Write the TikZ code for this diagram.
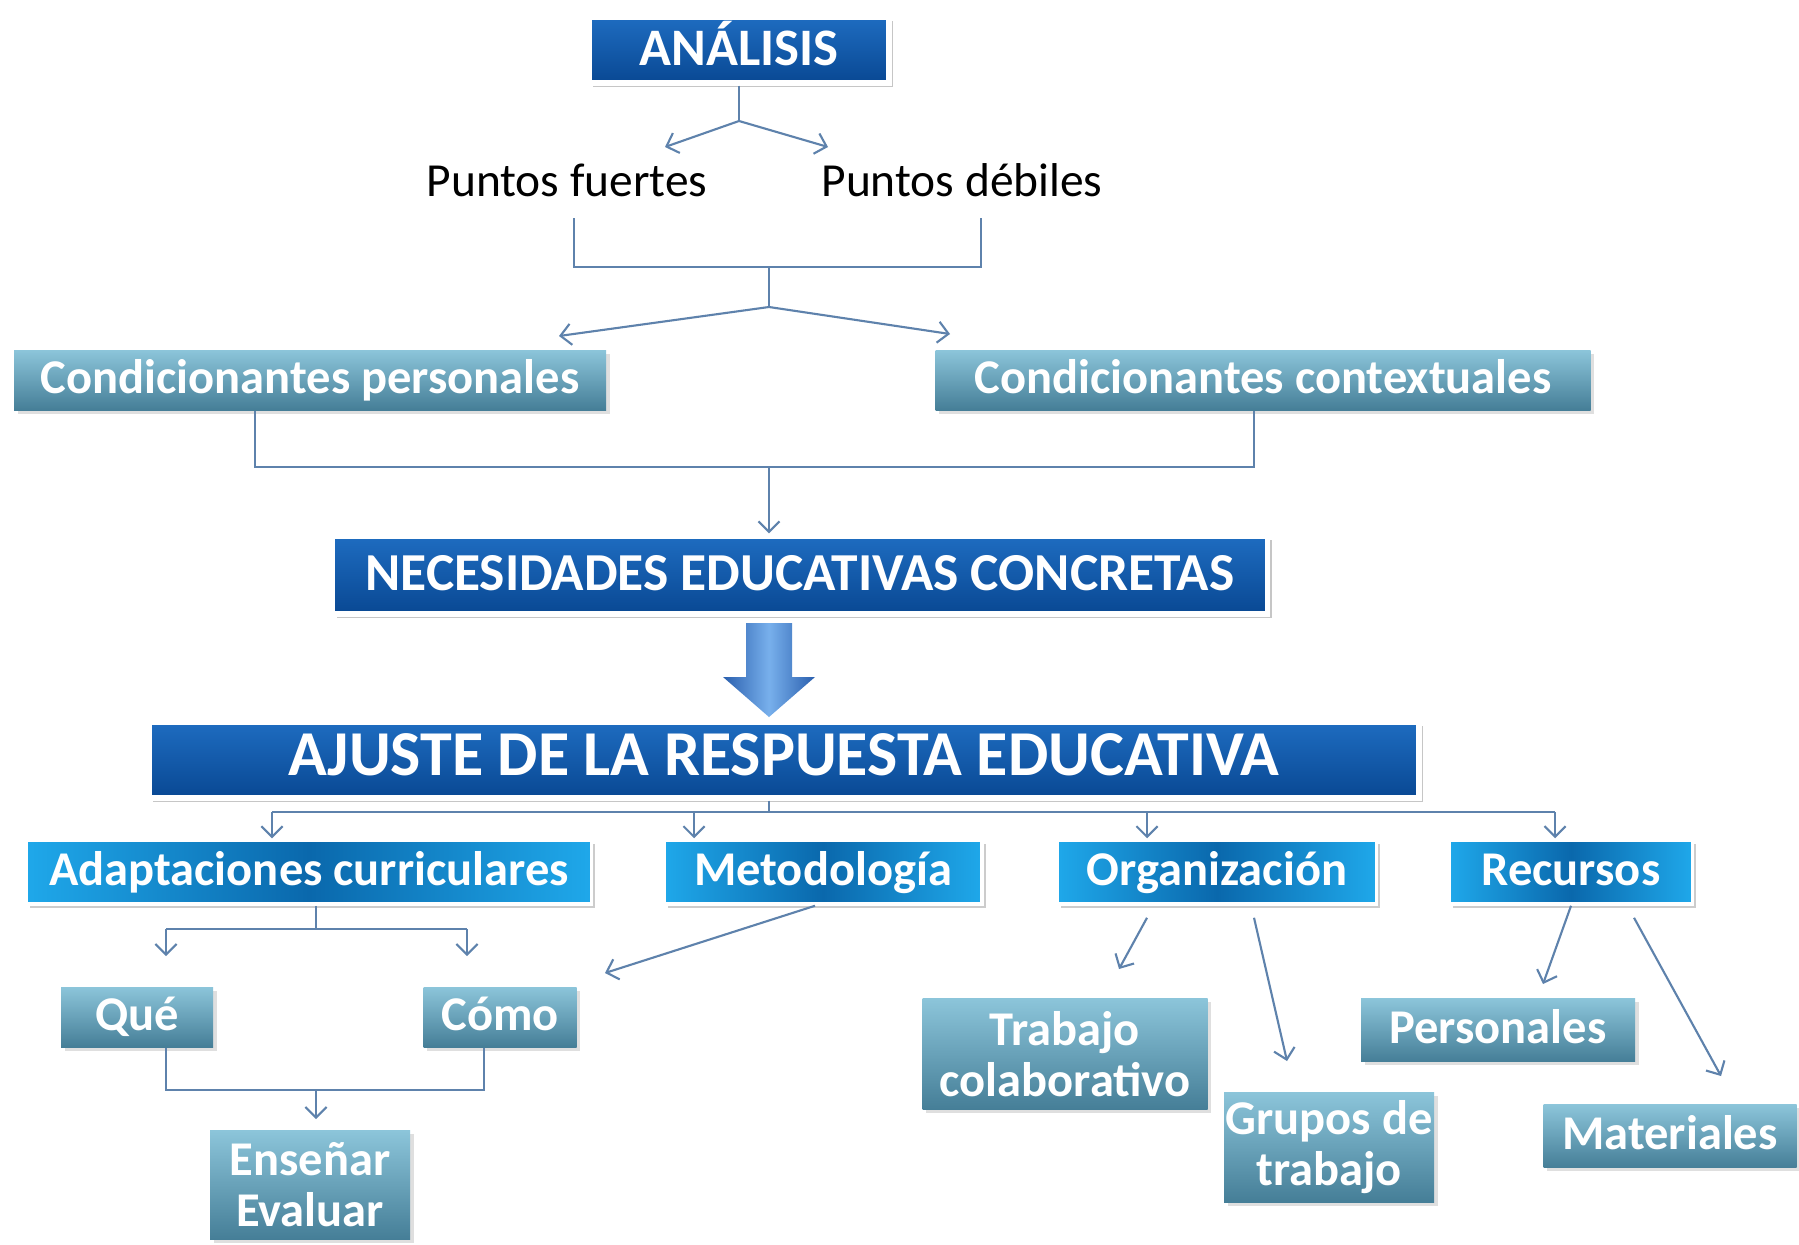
\documentclass[tikz,border=0pt]{standalone}
\usepackage{fontspec}
\setmainfont{Carlito}
\usetikzlibrary{arrows.meta,shadows}

\definecolor{navytop}{HTML}{1E6CC0}
\definecolor{navybot}{HTML}{094893}
\definecolor{tealtop}{HTML}{8CC5DA}
\definecolor{tealbot}{HTML}{457E97}
\definecolor{skyedge}{HTML}{1FA8EA}
\definecolor{skymid}{HTML}{0A68AC}
\definecolor{linec}{HTML}{5E82AC}
\definecolor{arredge}{HTML}{2A5FAE}
\definecolor{arrmid}{HTML}{78B0EC}

\begin{document}
\begin{tikzpicture}[
        big/.style = {draw=white, line width=1.5pt, top color=navytop, bottom color=navybot,
            text=white, inner sep=0pt, text height=1.9ex, text depth=0.1ex,
            general shadow={fill=gray!45, shadow xshift=1.2pt, shadow yshift=-1.2pt}},
        area/.style = {draw=white, line width=1pt, left color=skyedge, right color=skyedge,
            middle color=skymid, text=white, inner sep=0pt, minimum height=0.64cm,
            text height=2.1ex, text depth=0.5ex,
            font=\fontsize{13.8}{14.5}\selectfont\bfseries,
            general shadow={fill=gray!40, shadow xshift=1pt, shadow yshift=-1pt}},
        sub/.style = {top color=tealtop, bottom color=tealbot, text=white, inner sep=0pt,
            align=center, font=\fontsize{13.8}{14.5}\selectfont\bfseries,
            general shadow={fill=gray!25, shadow xshift=1pt, shadow yshift=-1pt}},
        subone/.style = {sub, text height=2.1ex, text depth=0.5ex},
        txt/.style = {font=\fontsize{13.5}{15}\selectfont, inner sep=0pt},
        line/.style = {draw=linec, line width=0.6pt},
        arr/.style = {line, -{Straight Barb[length=3pt,width=6pt]}},
        ]
        \useasboundingbox[fill=white] (0,0) rectangle (17.99,-12.44);

        \node[big, minimum width=3.0cm, minimum height=0.66cm, font=\fontsize{15}{17}\selectfont\bfseries](ana) at (7.39,-0.50) {ANÁLISIS};
        \node[txt](pf) at (5.67,-1.80) {Puntos fuertes};
        \node[txt](pd) at (9.62,-1.80) {Puntos débiles};

        \coordinate (j1) at (7.39,-1.21);
        \coordinate (pf-in) at (6.65,-1.47);
        \coordinate (pd-in) at (8.28,-1.47);
        \draw[line] (ana) -- (j1);
        \draw[arr] (j1) -- (pf-in);
        \draw[arr] (j1) -- (pd-in);

        \coordinate (b1) at (5.74,-2.18);
        \coordinate (b2) at (9.81,-2.18);
        \coordinate (j2) at (7.69,-2.67);
        \coordinate (j3) at (7.69,-3.07);
        \coordinate (cp-in) at (5.59,-3.36);
        \coordinate (cc-in) at (9.50,-3.34);
        \draw[line] (b1) |- (j2) -| (b2);
        \draw[line] (j2) -- (j3);
        \draw[arr] (j3) -- (cp-in);
        \draw[arr] (j3) -- (cc-in);

        \node[subone, minimum width=5.92cm, minimum height=0.60cm](cp) at (3.10,-3.80) {Condicionantes personales};
        \node[subone, minimum width=6.55cm, minimum height=0.60cm](cc) at (12.63,-3.80) {Condicionantes contextuales};

        \node[big, minimum width=9.35cm, minimum height=0.78cm, font=\fontsize{15.2}{18}\selectfont\bfseries](nec) at (8.00,-5.75) {NECESIDADES EDUCATIVAS CONCRETAS};

        \coordinate (j4) at (7.69,-4.67);
        \draw[line] ([xshift=-5.5mm]cp.south) |- (j4) -| ([xshift=-0.9mm]cc.south);
        \draw[arr] (j4) -- (j4 |- nec.north);

        \shade[left color=arredge, right color=arredge, middle color=arrmid]
            (7.46,-6.23) -- (7.92,-6.23) -- (7.92,-6.77) -- (8.15,-6.77) -- (7.69,-7.17)
            -- (7.23,-6.77) -- (7.46,-6.77) -- cycle;

        \node[big, minimum width=12.7cm, minimum height=0.76cm, font=\fontsize{18.2}{21}\selectfont\bfseries](aju) at (7.84,-7.60) {AJUSTE DE LA RESPUESTA EDUCATIVA};

        \node[area, minimum width=5.65cm](ad) at (3.09,-8.72) {Adaptaciones curriculares};
        \node[area, minimum width=3.18cm](me) at (8.23,-8.72) {Metodología};
        \node[area, minimum width=3.19cm](or) at (12.17,-8.72) {Organización};
        \node[area, minimum width=2.43cm](re) at (15.71,-8.72) {Recursos};

        \coordinate (j5) at (7.69,-8.12);
        \coordinate (h1) at (2.72,-8.12);
        \coordinate (h2) at (6.94,-8.12);
        \coordinate (h3) at (11.47,-8.12);
        \coordinate (h4) at (15.55,-8.12);
        \draw[line] (aju.south -| j5) -- (j5);
        \draw[line] (h1) -- (h4);
        \draw[arr] (h1) -- (h1 |- ad.north);
        \draw[arr] (h2) -- (h2 |- me.north);
        \draw[arr] (h3) -- (h3 |- or.north);
        \draw[arr] (h4) -- (h4 |- re.north);

        \node[subone, minimum width=1.52cm, minimum height=0.60cm](qu) at (1.37,-10.17) {Qué};
        \node[subone, minimum width=1.53cm, minimum height=0.60cm](co) at (5.00,-10.17) {Cómo};
        \node[sub, minimum width=2.00cm, minimum height=1.09cm](ee) at (3.10,-11.85) {Enseñar\\Evaluar};

        \coordinate (j6) at (3.16,-9.29);
        \coordinate (q1) at (1.66,-9.29);
        \coordinate (c1) at (4.67,-9.29);
        \coordinate (qu-in) at (1.66,-9.56);
        \coordinate (co-top) at (4.67,-9.56);
        \draw[line] (ad.south -| j6) -- (j6);
        \draw[line] (q1) -- (c1);
        \draw[arr] (q1) -- (qu-in);
        \draw[arr] (c1) -- (co-top);

        \coordinate (co-in) at (6.05,-9.73);
        \draw[arr] ([xshift=-0.8mm]me.south) -- (co-in);

        \coordinate (j7) at (3.16,-10.90);
        \coordinate (ee-in) at (3.16,-11.19);
        \draw[line] ([xshift=2.9mm]qu.south) |- (j7) -| ([xshift=-1.6mm]co.south);
        \draw[arr] (j7) -- (ee-in);

        \node[sub, minimum width=2.85cm, minimum height=1.11cm](tc) at (10.65,-10.54) {Trabajo\\colaborativo};
        \node[sub, minimum width=2.10cm, minimum height=1.10cm](gt) at (13.29,-11.47) {Grupos de\\trabajo};
        \node[subone, minimum width=2.74cm, minimum height=0.63cm](pe) at (14.98,-10.30) {Personales};
        \node[subone, minimum width=2.53cm, minimum height=0.63cm](ma) at (16.70,-11.36) {Materiales};

        \coordinate (tc-in) at (11.19,-9.69);
        \coordinate (gt-in) at (12.87,-10.61);
        \coordinate (pe-in) at (15.43,-9.84);
        \coordinate (ma-in) at (17.21,-10.76);
        \draw[arr] ([shift={(-0.70,-0.12)}]or.south) -- (tc-in);
        \draw[arr] ([shift={(0.37,-0.12)}]or.south) -- (gt-in);
        \draw[arr] (re.south) -- (pe-in);
        \draw[arr] ([shift={(0.63,-0.12)}]re.south) -- (ma-in);
\end{tikzpicture}
\end{document}
